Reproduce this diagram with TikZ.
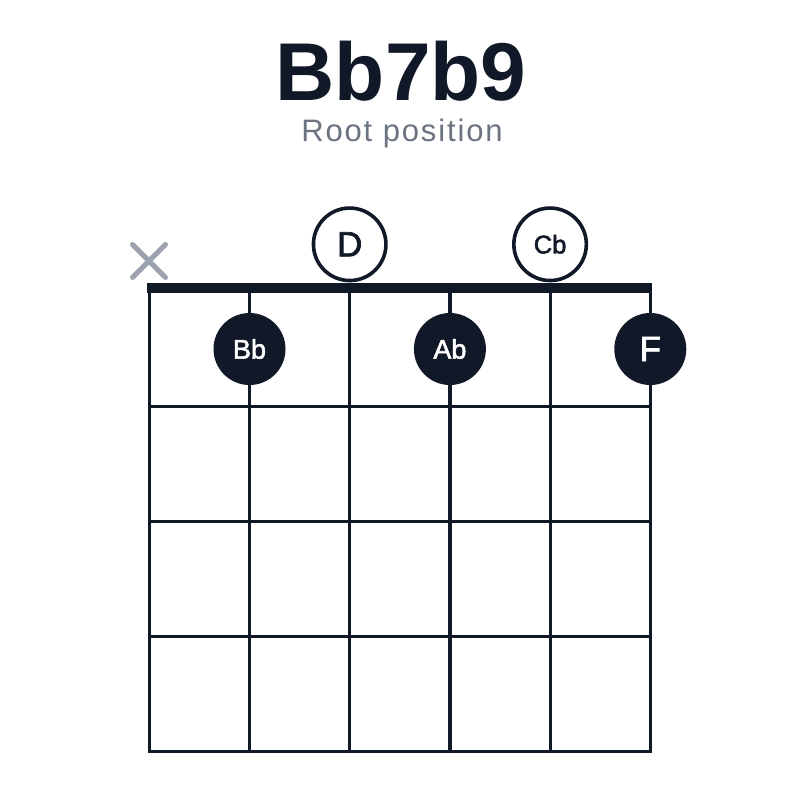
\documentclass[tikz,border=0pt]{standalone}
\usepackage{fontspec}
\setmainfont{Liberation Sans}
\newfontfamily\subfont[LetterSpace=6]{Liberation Sans}
\newfontfamily\medfont[FakeBold=2]{Liberation Sans}
\definecolor{ink}{HTML}{111827}
\definecolor{subgray}{HTML}{6B7280}
\definecolor{xgray}{HTML}{9CA3AF}
\tikzset{
  gridline/.style={line width=3.2pt, draw=ink},
  nutline/.style={line width=10.5pt, draw=ink},
  fingerdot/.style={circle, fill=ink, text=white, minimum size=72pt, inner sep=0pt},
  opendot/.style={circle, draw=ink, line width=3.6pt, fill=white, text=ink, minimum size=72.5pt, inner sep=0pt},
  mutemark/.style={line width=5pt, draw=xgray, line cap=round},
}
\begin{document}
\begin{tikzpicture}[x=1pt,y=-1pt]
\useasboundingbox (0,0) rectangle (800,800);
\fill[white] (0,0) rectangle (800,800);
% title
\node[anchor=base, text=ink, inner sep=0pt, font=\fontsize{82}{90}\selectfont\bfseries] (title) at (401,100) {Bb7b9};
\node[anchor=base, text=subgray, inner sep=0pt, font=\fontsize{31}{35}\subfont] (subtitle) at (402,141) {Root position};
% string coordinates
\foreach \i/\x in {1/149.3,2/249.5,3/349.7,4/449.9,5/550.1,6/650.3}{
  \coordinate (s\i top) at (\x,288);
  \coordinate (s\i bot) at (\x,751.7);
}
% frets
\foreach \j/\y in {1/406.7,2/521.7,3/636.7,4/751.7}{
  \coordinate (f\j l) at (147.8,\y);
  \coordinate (f\j r) at (651.8,\y);
}
\foreach \i in {1,...,6}{ \draw[gridline] (s\i top) -- (s\i bot); }
\foreach \j in {1,2,3}{ \draw[gridline] (f\j l) -- (f\j r); }
\draw[gridline, line join=miter] (s1top) -- (s1bot) -- (s6bot) -- (s6top);
% nut
\coordinate (nutl) at (147.3,288);
\coordinate (nutr) at (652.3,288);
\draw[nutline] (nutl) -- (nutr);
% mute mark
\coordinate (xa) at (132.5,244.5);
\coordinate (xb) at (165.5,277.5);
\coordinate (xc) at (132.5,277.5);
\coordinate (xd) at (165.5,244.5);
\draw[mutemark] (xa) -- (xb);
\draw[mutemark] (xc) -- (xd);
% open strings
\node[opendot, font=\fontsize{35}{40}\medfont] (D) at (349.7,244.3) {D};
\node[opendot, font=\fontsize{25.5}{30}\medfont] (Cb) at (550.1,244.3) {Cb};
% fretted notes
\node[fingerdot, font=\fontsize{27}{30}\medfont] (Bb) at (249.5,349) {Bb};
\node[fingerdot, font=\fontsize{27}{30}\medfont] (Ab) at (449.9,349) {Ab};
\node[fingerdot, font=\fontsize{35}{40}\medfont] (F) at (650.3,349) {F};
\end{tikzpicture}
\end{document}
